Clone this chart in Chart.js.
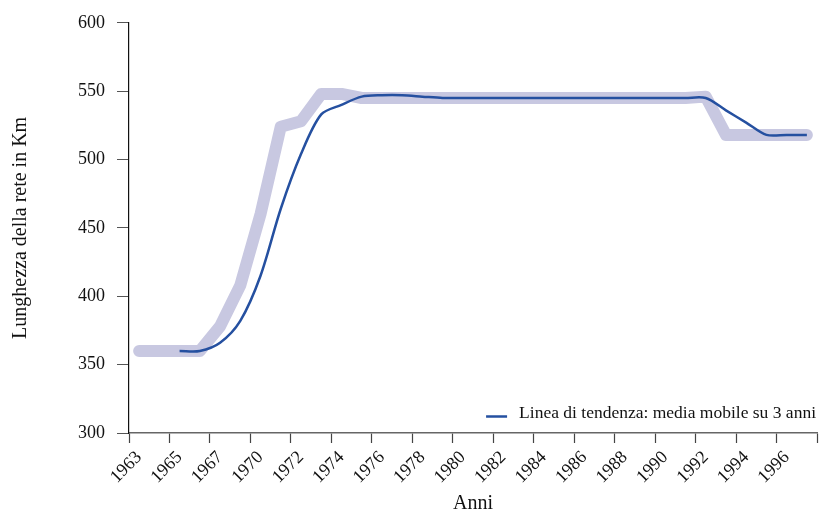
<!DOCTYPE html>
<html lang="it">
<head>
<meta charset="utf-8">
<title>Lunghezza della rete</title>
<script src="https://cdn.jsdelivr.net/npm/chart.js@4.4.1/dist/chart.umd.min.js"></script>
<style>
  html, body { margin: 0; padding: 0; background: #fff; }
  #wrap { width: 821px; height: 514px; }
</style>
</head>
<body>
<div id="wrap"><canvas id="chart"></canvas></div>
<script>
// una categoria per anno, etichetta solo ogni due
const anni = [
  1963, 1964, 1965, 1966, 1967, 1968,
  1970, 1971, 1972, 1973, 1974, 1975, 1976, 1977, 1978, 1979,
  1980, 1981, 1982, 1983, 1984, 1985, 1986, 1987, 1988, 1989,
  1990, 1991, 1992, 1993, 1994, 1995, 1996, 1997
];

// lunghezza della rete (Km)
const lunghezza = [
  360, 360, 360, 360, 378, 408,
  460, 524, 528, 548, 548, 545, 545, 545, 545, 545,
  545, 545, 545, 545, 545, 545, 545, 545, 545, 545,
  545, 545, 546, 518, 518, 518, 518, 518
];

// linea di tendenza: media mobile su 3 anni
const mediaMobile = [
  null, null, 360, 360, 366, 382,
  415, 464, 504, 533, 540, 546, 547, 547, 546, 545,
  545, 545, 545, 545, 545, 545, 545, 545, 545, 545,
  545, 545, 545, 536, 527, 518, 518, 518
];

const yMin = 300;
const yMax = 600;
const yStep = 50;

const FONT = '"Liberation Serif", "Times New Roman", serif';
const TEXT = '#111';

// legenda dentro l'area del grafico, in basso a destra
const legendaInterna = {
  id: 'legendaInterna',
  afterDraw(chart) {
    const { ctx, chartArea } = chart;
    const ds = chart.data.datasets[0];
    ctx.save();
    ctx.font = '17.5px ' + FONT;
    ctx.textBaseline = 'middle';
    ctx.textAlign = 'right';
    const x = chartArea.right - 1;
    const y = chartArea.bottom - 20;
    const w = ctx.measureText(ds.label).width;
    ctx.fillStyle = TEXT;
    ctx.fillText(ds.label, x, y);
    ctx.strokeStyle = ds.borderColor;
    ctx.lineWidth = 2.5;
    ctx.beginPath();
    ctx.moveTo(x - w - 33, y + 3.5);
    ctx.lineTo(x - w - 12, y + 3.5);
    ctx.stroke();
    ctx.restore();
  }
};

new Chart(document.getElementById('chart'), {
  type: 'line',
  data: {
    labels: anni,
    datasets: [
      {
        label: 'Linea di tendenza: media mobile su 3 anni',
        data: mediaMobile,
        borderColor: '#2550a0',
        borderWidth: 2.5,
        tension: 0.3,
        pointRadius: 0,
        fill: false
      },
      {
        label: 'Lunghezza della rete',
        data: lunghezza,
        borderColor: '#c8c8e1',
        borderWidth: 12,
        borderCapStyle: 'round',
        borderJoinStyle: 'round',
        tension: 0,
        pointRadius: 0,
        fill: false
      }
    ]
  },
  options: {
    responsive: true,
    maintainAspectRatio: false,
    animation: false,
    layout: { padding: { top: 22, right: 4, left: 0, bottom: 0 } },
    plugins: {
      legend: { display: false },
      tooltip: { enabled: false }
    },
    scales: {
      x: {
        offset: true,
        border: { display: true, color: '#666', width: 1.5 },
        grid: {
          offset: true,
          drawOnChartArea: false,
          tickLength: 10,
          tickWidth: 1.2,
          tickColor: c => (c.index === undefined || c.index % 2 === 0) ? '#444' : 'rgba(0,0,0,0)'
        },
        ticks: {
          autoSkip: false,
          minRotation: 45,
          maxRotation: 45,
          padding: 4,
          color: TEXT,
          font: { family: FONT, size: 18 },
          callback: (v, i) => (i % 2 === 0 ? String(anni[i]) : '')
        },
        title: {
          display: true,
          text: 'Anni',
          color: TEXT,
          font: { family: FONT, size: 20, lineHeight: 1.05 },
          padding: { top: 0, bottom: 0 }
        },
        afterFit: s => {
          s.height = 81;
          s.paddingLeft = 0;
          s.paddingRight = 0;
        }
      },
      y: {
        min: yMin,
        max: yMax,
        border: { color: '#111', width: 1.2 },
        grid: { drawOnChartArea: false, tickLength: 12, tickColor: '#555' },
        ticks: {
          stepSize: yStep,
          padding: 12,
          color: TEXT,
          font: { family: FONT, size: 18 }
        },
        title: {
          display: true,
          text: 'Lunghezza della rete in Km',
          color: TEXT,
          font: { family: FONT, size: 20 },
          padding: { top: 9, bottom: 0 }
        },
        afterFit: s => { s.width = 129; }
      }
    }
  },
  plugins: [legendaInterna]
});
</script>
</body>
</html>
